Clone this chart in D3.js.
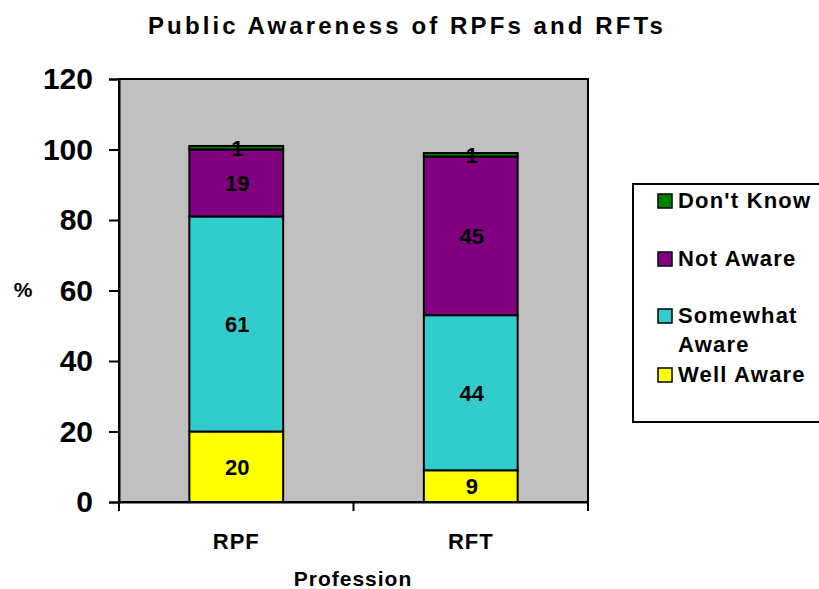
<!DOCTYPE html>
<html>
<head>
<meta charset="utf-8">
<script src="https://cdn.jsdelivr.net/npm/d3@7"></script>
<style>
  body { margin: 0; background: #fff; }
  svg { font-family: Arial, "Liberation Sans", sans-serif; font-weight: bold; }
</style>
</head>
<body>
<div id="chart"></div>
<script>
// data
const professions = ['RPF', 'RFT'];
const seriesNames = ['Well Aware', 'Somewhat Aware', 'Not Aware', "Don't Know"];
const wellAware = [20, 9];
const somewhatAware = [61, 44];
const notAware = [19, 45];
const dontKnow = [1, 1];
const yTicks = [0, 20, 40, 60, 80, 100, 120];
const colors = ['#ffff00', '#33cccc', '#800080', '#008000'];

const width = 819;
const height = 589;
const margin = { top: 79, right: 231, bottom: 87, left: 119 };
const fontFamily = 'Arial, "Liberation Sans", sans-serif';

const svg = d3.select('#chart')
  .append('svg')
  .attr('width', width)
  .attr('height', height);

// build table for the stack
const rows = professions.map((p, i) => ({
  profession: p,
  'Well Aware': wellAware[i],
  'Somewhat Aware': somewhatAware[i],
  'Not Aware': notAware[i],
  "Don't Know": dontKnow[i],
}));
const stacked = d3.stack().keys(seriesNames)(rows);

const x = d3.scaleBand()
  .domain(professions)
  .range([margin.left, width - margin.right])
  .paddingInner(0.6)
  .paddingOuter(0.3);

const y = d3.scaleLinear()
  .domain([0, 120])
  .range([height - margin.bottom, margin.top]);

// plot background
svg.append('rect')
  .attr('x', margin.left)
  .attr('y', margin.top)
  .attr('width', width - margin.right - margin.left)
  .attr('height', height - margin.bottom - margin.top)
  .attr('fill', '#c0c0c0')
  .attr('stroke', '#000')
  .attr('stroke-width', 2);

// bars
const layers = svg.selectAll('.layer')
  .data(stacked)
  .enter()
  .append('g')
  .attr('fill', (d, i) => colors[i]);

layers.selectAll('rect')
  .data((d) => d)
  .enter()
  .append('rect')
  .attr('x', (d) => x(d.data.profession))
  .attr('y', (d) => y(d[1]))
  .attr('width', x.bandwidth())
  .attr('height', (d) => y(d[0]) - y(d[1]))
  .attr('stroke', '#000')
  .attr('stroke-width', 2);

// value labels
layers.selectAll('text')
  .data((d) => d)
  .enter()
  .append('text')
  .attr('x', (d) => x(d.data.profession) + x.bandwidth() / 2 + 1)
  .attr('y', (d) => (y(d[0]) + y(d[1])) / 2)
  .attr('dy', '0.36em')
  .attr('text-anchor', 'middle')
  .attr('font-size', 22)
  .attr('fill', '#000')
  .text((d) => d[1] - d[0]);

// y axis
const yAxis = svg.append('g')
  .attr('transform', `translate(${margin.left},0)`)
  .call(d3.axisLeft(y).tickValues(yTicks).tickSize(10).tickPadding(16));
yAxis.selectAll('text')
  .attr('font-size', 30)
  .attr('font-family', fontFamily)
  .attr('fill', '#000');
yAxis.selectAll('line').attr('stroke', '#000').attr('stroke-width', 2);
yAxis.select('.domain').attr('stroke', '#000').attr('stroke-width', 2);

// x axis
const xAxis = svg.append('g')
  .attr('transform', `translate(0,${height - margin.bottom})`)
  .call(d3.axisBottom(x).tickSize(0).tickPadding(31));
xAxis.selectAll('text')
  .attr('font-size', 22)
  .attr('letter-spacing', 1)
  .attr('font-family', fontFamily)
  .attr('fill', '#000');
xAxis.select('.domain').attr('stroke', '#000').attr('stroke-width', 2);

// tick marks at the category edges
const edges = [margin.left, (x(professions[0]) + x.bandwidth() + x(professions[1])) / 2, width - margin.right];
xAxis.selectAll('.edge')
  .data(edges)
  .enter()
  .append('line')
  .attr('x1', (d) => d)
  .attr('x2', (d) => d)
  .attr('y1', 0)
  .attr('y2', 9)
  .attr('stroke', '#000')
  .attr('stroke-width', 2);

// title and axis titles
svg.append('text')
  .attr('x', 407)
  .attr('y', 34)
  .attr('text-anchor', 'middle')
  .attr('font-size', 24)
  .attr('letter-spacing', 3.1)
  .text('Public Awareness of RPFs and RFTs');

svg.append('text')
  .attr('x', 23)
  .attr('y', 297)
  .attr('text-anchor', 'middle')
  .attr('font-size', 21)
  .text('%');

svg.append('text')
  .attr('x', 353)
  .attr('y', 586)
  .attr('text-anchor', 'middle')
  .attr('font-size', 21)
  .attr('letter-spacing', 1)
  .text('Profession');

// legend
const legend = svg.append('g');
legend.append('rect')
  .attr('x', 633)
  .attr('y', 184)
  .attr('width', 200)
  .attr('height', 238)
  .attr('fill', '#fff')
  .attr('stroke', '#000')
  .attr('stroke-width', 2);

const legendItems = [
  { i: 3, base: 208, lines: ["Don't Know"] },
  { i: 2, base: 266, lines: ['Not Aware'] },
  { i: 1, base: 323, lines: ['Somewhat', 'Aware'] },
  { i: 0, base: 382, lines: ['Well Aware'] },
];
legendItems.forEach((item) => {
  legend.append('rect')
    .attr('x', 658)
    .attr('y', item.base - 14)
    .attr('width', 14)
    .attr('height', 14)
    .attr('fill', colors[item.i])
    .attr('stroke', '#000')
    .attr('stroke-width', 1.5);
  item.lines.forEach((line, k) => {
    legend.append('text')
      .attr('x', 678)
      .attr('y', item.base + k * 29)
      .attr('font-size', 22)
      .attr('letter-spacing', 1.2)
      .text(line);
  });
});
</script>
</body>
</html>
